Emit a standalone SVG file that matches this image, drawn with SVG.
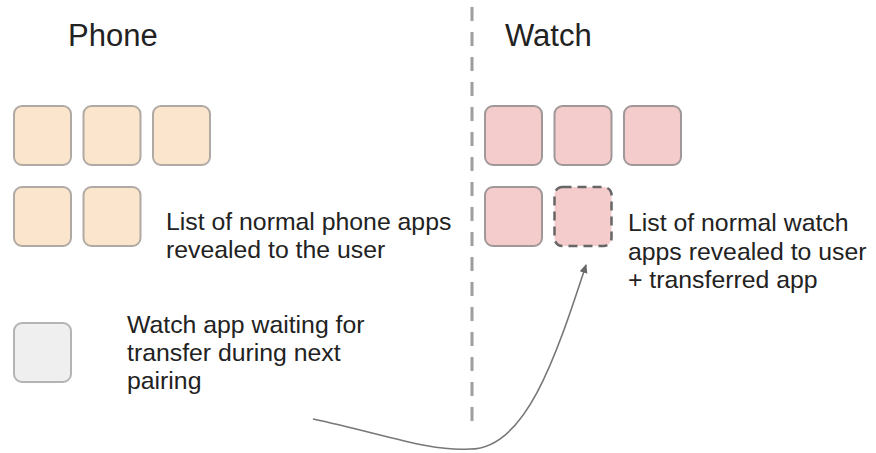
<svg xmlns="http://www.w3.org/2000/svg" width="876" height="453" viewBox="0 0 876 453">
<defs>
<style>
.t{font-family:"Liberation Sans",Arial,sans-serif;fill:#222;}
.h{font-size:31px;}
.b{font-size:24.8px;}
.app{stroke-width:2;}
.ph{fill:#fce5cd;stroke:#b0aaa4;}
.wa{fill:#f4cccc;stroke:#a09898;}
.gr{fill:#efefef;stroke:#b4b4b4;}
.new{fill:#f4cccc;stroke:#666;stroke-width:2.5;stroke-dasharray:9 6;}
</style>
<marker id="arr" markerWidth="10" markerHeight="10" refX="8" refY="5" orient="auto" markerUnits="userSpaceOnUse">
<path d="M0,1 L9,5 L0,9 Z" fill="#666"/>
</marker>
</defs>
<rect width="876" height="453" fill="#fff"/>
<g id="divider">
<line x1="472" y1="7" x2="472" y2="432" stroke="#9e9e9e" stroke-width="3" stroke-dasharray="14 11"/>
</g>
<g id="title-phone"><text class="t h" x="68" y="46">Phone</text></g>
<g id="title-watch"><text class="t h" x="505" y="46">Watch</text></g>
<g id="phone-apps">
<rect class="app ph" x="14" y="106" width="57" height="59" rx="8"/>
<rect class="app ph" x="83.5" y="106" width="57" height="59" rx="8"/>
<rect class="app ph" x="153" y="106" width="57" height="59" rx="8"/>
<rect class="app ph" x="14" y="187" width="57" height="59" rx="8"/>
<rect class="app ph" x="83.5" y="187" width="57" height="59" rx="8"/>
</g>
<g id="phone-label">
<text class="t b" x="166" y="230">List of normal phone apps</text>
<text class="t b" x="166" y="258">revealed to the user</text>
</g>
<g id="waiting-app">
<rect class="app gr" x="14" y="323" width="57" height="59" rx="8"/>
</g>
<g id="waiting-label">
<text class="t b" x="127" y="333">Watch app waiting for</text>
<text class="t b" x="127" y="361">transfer during next</text>
<text class="t b" x="127" y="389">pairing</text>
</g>
<g id="watch-apps">
<rect class="app wa" x="485" y="106" width="57" height="59" rx="8"/>
<rect class="app wa" x="554.5" y="106" width="57" height="59" rx="8"/>
<rect class="app wa" x="624" y="106" width="57" height="59" rx="8"/>
<rect class="app wa" x="485" y="187" width="57" height="59" rx="8"/>
</g>
<g id="transferred-app">
<rect class="new" x="554.5" y="187" width="57" height="59" rx="8"/>
</g>
<g id="watch-label">
<text class="t b" x="628" y="231">List of normal watch</text>
<text class="t b" x="628" y="259.5">apps revealed to user</text>
<text class="t b" x="628" y="288">+ transferred app</text>
</g>
<g id="connectors">
<path d="M313,419 C380,433 430,452 470,449 C525,449 555,360 586,265" fill="none" stroke="#777" stroke-width="1.6" marker-end="url(#arr)"/>
</g>
</svg>
